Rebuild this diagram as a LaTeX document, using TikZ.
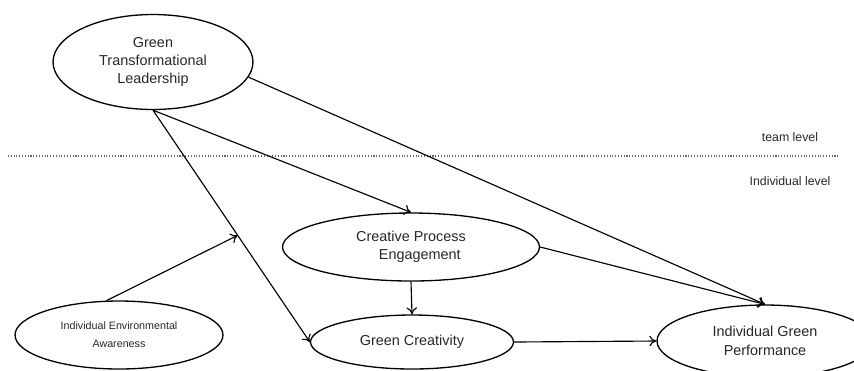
\documentclass[tikz,border=0pt]{standalone}
\usepackage{fontspec}
\setmainfont{Liberation Sans}
\usetikzlibrary{shapes.geometric,calc,arrows.meta}

\begin{document}
\begin{tikzpicture}[x=0.02cm,y=-0.02cm,
    construct/.style={draw,ellipse,inner sep=0pt,line width=0.75pt,align=center,
      text=black!85,font=\fontsize{8.2}{10.5}\selectfont},
    levellabel/.style={text=black!85,font=\fontsize{7}{8.5}\selectfont},
    effect/.style={-{To[length=4pt,width=6pt]},line width=0.65pt}]
  \clip (0,0) rectangle (854,370);
  \draw[dash pattern=on 0.6pt off 1pt,black!60,line width=0.6pt] (8,156) -- (840,156);
  \draw
    (153,62) node[construct,minimum width=4cm,minimum height=1.9cm] (gtl){Green\\Transformational\\Leadership}
    (411,247) node[construct,minimum width=5.14cm,minimum height=1.36cm] (cpe){Creative Process\\\hspace*{10pt}Engagement}
    (412,342) node[construct,minimum width=4.06cm,minimum height=1.08cm] (gc){Green Creativity}
    (119,335) node[construct,minimum width=4.16cm,minimum height=1.36cm,
      font=\fontsize{6.1}{10.2}\selectfont] (iea){Individual Environmental\\Awareness}
    (765,341) node[construct,minimum width=4.32cm,minimum height=1.44cm] (igp){Individual Green\\Performance}
    (790,137) node[levellabel] (team){team level}
    (790,181) node[levellabel] (indiv){Individual level};
  \coordinate (mod) at ($(gtl.south)!0.54!(gc.west)$);
  \begin{scope}[effect]
    \draw (gtl.-9) to (igp.north);
    \draw (gtl.south) to (cpe.north);
    \draw (gtl.south) to (gc.west);
    \draw (iea.110) to (mod);
    \draw (cpe.east) to (igp.north);
    \draw (cpe.south) to (gc.north);
    \draw (gc.east) to (igp.west);
  \end{scope}
\end{tikzpicture}
\end{document}
